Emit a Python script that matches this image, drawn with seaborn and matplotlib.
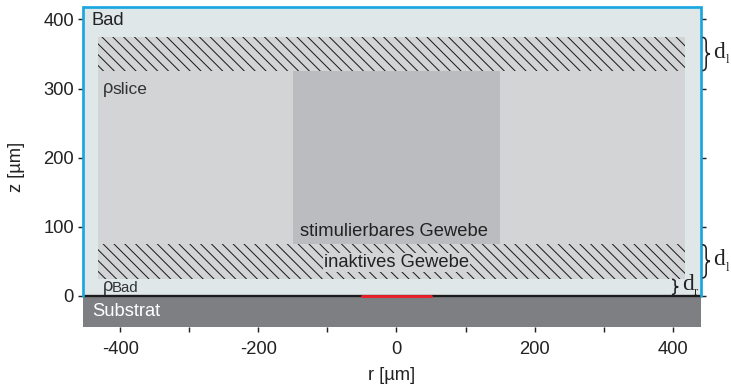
import matplotlib
matplotlib.use("Agg")
import matplotlib.pyplot as plt
from matplotlib.patches import Rectangle, PathPatch
from matplotlib.path import Path
import seaborn as sns
import pandas as pd

# ---- data (µm) ----
region_names = ["Bad", "Slice", "stimulierbares Gewebe", "Substrat"]
region_r_min = [-454, -432, -150, -454]
region_r_max = [441, 418, 150, 441]
region_z_min = [0, 25, 75, -45]
region_z_max = [418, 375, 325, 0]
region_colors = ["#dfe7e8", "#d3d4d6", "#bbbcbf", "#7e7f83"]

hatch_z_min = [25, 325]
hatch_z_max = [75, 375]

surface_r = [-454, 441]
surface_z = [0, 0]
electrode_r = [-50, 50]
electrode_z = [0, 0]

x_ticks = [-400, -300, -200, -100, 0, 100, 200, 300, 400]
x_ticklabels = ["-400", "", "-200", "", "0", "", "200", "", "400"]
y_ticks = [0, 100, 200, 300, 400]

sns.set_theme(style="ticks")
plt.rcParams["font.family"] = ["Liberation Sans", "DejaVu Sans"]
plt.rcParams["hatch.linewidth"] = 0.55

DPI = 130
fig = plt.figure(figsize=(731 / DPI, 391 / DPI), dpi=DPI)
ax = fig.add_axes([83 / 731, 1 - 327 / 391, (701 - 83) / 731, (327 - 7) / 391])
ax.set_xlim(-454, 441)
ax.set_ylim(-45, 418)

TXT = "#222222"

# regions
for name, r0, r1, z0, z1, c in zip(region_names, region_r_min, region_r_max,
                                   region_z_min, region_z_max, region_colors):
    ax.add_patch(Rectangle((r0, z0), r1 - r0, z1 - z0, facecolor=c,
                           edgecolor="none", zorder=1 if name == "Bad" else 2))

# hatched inactive layers
for z0, z1 in zip(hatch_z_min, hatch_z_max):
    ax.add_patch(Rectangle((region_r_min[1], z0), region_r_max[1] - region_r_min[1],
                           z1 - z0, facecolor="none", edgecolor="#1a1a1a",
                           linewidth=0, hatch="\\\\\\\\", zorder=3))

# blue bath frame (left, top, right)
ax.plot([surface_r[0], surface_r[0], surface_r[1], surface_r[1]],
        [0, region_z_max[0], region_z_max[0], 0], color="#19a7e0",
        lw=1.5, solid_joinstyle="miter", clip_on=False, zorder=6)

# surface and electrode
surf = pd.DataFrame({"r": surface_r, "z": surface_z})
sns.lineplot(data=surf, x="r", y="z", color="#1c1c1c", lw=1.3, ax=ax, zorder=5)
elec = pd.DataFrame({"r": electrode_r, "z": electrode_z})
sns.lineplot(data=elec, x="r", y="z", color="#e8202a", lw=1.6, ax=ax, zorder=6)

# labels
fs = 10.2
ax.text(-441, 399, "Bad", fontsize=fs, ha="left", va="center", color=TXT, zorder=7)
ax.text(-441, -22, "Substrat", fontsize=fs, ha="left", va="center", color="white", zorder=7)
ax.text(-425, 300, "ρ", fontsize=fs, ha="left", va="center", color="#333333", zorder=7)
ax.text(-412, 298, "slice", fontsize=9.6, ha="left", va="center", color="#333333", zorder=7)
ax.text(-425, 13, "ρ", fontsize=fs, ha="left", va="center", color="#333333", zorder=7)
ax.text(-412, 11, "Bad", fontsize=8.3, ha="left", va="center", color="#333333", zorder=7)
ax.text(-3, 93, "stimulierbares Gewebe", fontsize=fs, ha="center", va="center",
        color=TXT, zorder=7)
ax.text(0, 48, "inaktives Gewebe", fontsize=fs, ha="center", va="center", color=TXT,
        zorder=7, bbox=dict(boxstyle="square,pad=0.05", facecolor=region_colors[1],
                            edgecolor="none"))


def brace(x0, z0, z1, w):
    zm = (z0 + z1) / 2
    h = (z1 - z0) / 2
    xm = x0 + w / 2
    verts = [(x0, z1), (xm, z1), (xm, z1 - 0.3 * h),
             (xm, zm + 0.25 * h),
             (xm, zm), (x0 + w, zm),
             (xm, zm), (xm, zm - 0.25 * h),
             (xm, z0 + 0.3 * h),
             (xm, z0), (x0, z0)]
    codes = [Path.MOVETO, Path.CURVE3, Path.CURVE3, Path.LINETO,
             Path.CURVE3, Path.CURVE3, Path.CURVE3, Path.CURVE3,
             Path.LINETO, Path.CURVE3, Path.CURVE3]
    ax.add_patch(PathPatch(Path(verts, codes), facecolor="none", edgecolor=TXT,
                           lw=0.9, clip_on=False, zorder=7))


serif = ["Liberation Serif", "DejaVu Serif"]
for z0, z1 in zip(hatch_z_min, hatch_z_max):
    brace(443, z0 + 1, z1 - 1, 11)
    ax.text(458, (z0 + z1) / 2 + 2, "d", fontsize=13, family=serif, ha="left",
            va="center", color=TXT, clip_on=False, zorder=7)
    ax.text(477, (z0 + z1) / 2 - 9, "l", fontsize=7, family=serif, ha="left",
            va="center", color=TXT, clip_on=False, zorder=7)
brace(399, 2, 24, 9)
ax.text(413, 17, "d", fontsize=13, family=serif, ha="left", va="center",
        color=TXT, zorder=7)
ax.text(431, 5, "r", fontsize=7, family=serif, ha="left", va="center",
        color=TXT, zorder=7)

# axes styling
for s in ax.spines.values():
    s.set_visible(False)
ax.set_xticks(x_ticks)
ax.set_xticklabels(x_ticklabels)
ax.set_yticks(y_ticks)
ax.tick_params(axis="x", direction="out", length=3, width=0.8, color=TXT,
               labelsize=fs, labelcolor=TXT, pad=5)
ax.tick_params(axis="y", direction="out", length=3, width=0.8, color=TXT,
               labelsize=fs, labelcolor=TXT, pad=2, right=True, labelright=False)
ax.set_xlabel("r [µm]", fontsize=fs, color=TXT, labelpad=5)
ax.set_ylabel("z [µm]", fontsize=fs, color=TXT, labelpad=10)
ax.grid(False)

fig.savefig("out.png", dpi=DPI)
